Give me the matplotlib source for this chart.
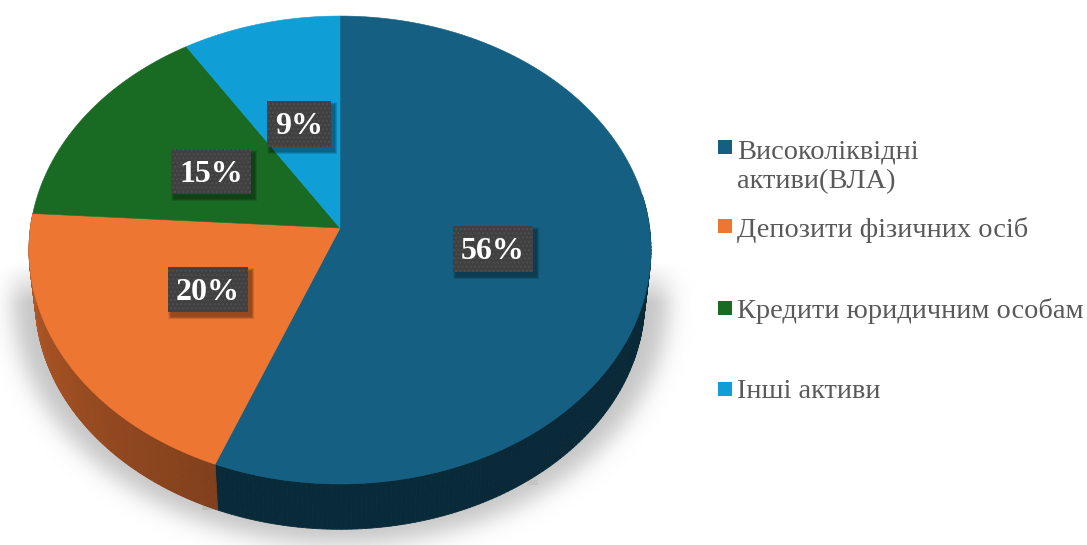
import numpy as np
import matplotlib
matplotlib.use("Agg")
import matplotlib.pyplot as plt
from matplotlib.collections import PolyCollection
from matplotlib.patches import Polygon, Rectangle
from matplotlib.colors import to_rgb

categories = ["Високоліквідні\nактиви(ВЛА)", "Депозити фізичних осіб",
              "Кредити юридичним особам", "Інші активи"]
values = [56, 20, 15, 9]
colors = ["#156082", "#EE7633", "#196B24", "#0F9ED5"]

# pie geometry in pixels
cx, cy = 340, 228
a, b, k = 309.6, 231.9, 0.094
depth_y, depth_scale = 50, 0.98
ellipse_y = 250

# label boxes and legend rows
label_boxes = [(453, 226, 80, 46), (168, 267, 80, 45), (171, 149, 80, 45), (267, 101, 64, 46)]
legend_tops = [140, 219, 301, 382]
legend_baselines = [[158, 188], [237], [318], [398]]


def rim(theta):
    # theta runs clockwise from the top of the pie, perspective makes the far side smaller
    x, y = np.sin(theta), np.cos(theta)
    d = 1 + k * y
    return cx + a * x / d, cy - b * y / d


def lower_rim(px, py):
    return cx + (px - cx) * depth_scale, ellipse_y + depth_y + (py - ellipse_y) * depth_scale


def blur(img, sigma):
    r = int(sigma * 3)
    kern = np.exp(-np.arange(-r, r + 1) ** 2 / (2 * sigma ** 2))
    kern /= kern.sum()
    img = np.apply_along_axis(lambda m: np.convolve(m, kern, mode="same"), 0, img)
    return np.apply_along_axis(lambda m: np.convolve(m, kern, mode="same"), 1, img)


plt.rcParams["font.family"] = ["Liberation Serif", "DejaVu Serif"]
fig = plt.figure(figsize=(10.87, 5.45), dpi=100)
ax = fig.add_axes([0, 0, 1, 1])
ax.set_xlim(0, 1087)
ax.set_ylim(545, 0)
ax.axis("off")

# soft shadow under the pie
yy, xx = np.mgrid[0:545, 0:1087]
mask = (((xx - 340) / 328.0) ** 2 + ((yy - 298) / 246.0) ** 2 <= 1).astype(float)
mask = blur(mask, 11)
mask *= np.clip((yy - 262) / 40.0, 0, 1)
shadow = np.zeros((545, 1087, 4))
shadow[..., :3] = 0.78
shadow[..., 3] = mask
ax.imshow(shadow, extent=(0, 1087, 545, 0), aspect="auto", zorder=1)
ax.set_xlim(0, 1087)
ax.set_ylim(545, 0)
ax.add_patch(Rectangle((202, 505), 16, 5, color="#BDBDBD", lw=0, zorder=1.5))
ax.add_patch(Rectangle((527, 480), 11, 5, color="#C4C4C4", lw=0, zorder=1.5))

# side wall, shaded along x
edges = np.cumsum([0] + values) / sum(values) * 2 * np.pi
wall_shade = [(0.42, 0.44), (0.54, 0.78)]
for i in range(2):
    th = np.linspace(edges[i], edges[i + 1], 240)
    th = th[(th > np.pi * 0.45) & (th < np.pi * 1.55)]
    tx, ty = rim(th)
    bx, by = lower_rim(tx, ty)
    quads, fc = [], []
    for j in range(len(th) - 1):
        quads.append([(tx[j], ty[j]), (tx[j + 1], ty[j + 1]), (bx[j + 1], by[j + 1]), (bx[j], by[j])])
        t = j / max(len(th) - 2, 1)
        fc.append(tuple(np.array(to_rgb(colors[i])) * (wall_shade[i][0] + t * (wall_shade[i][1] - wall_shade[i][0]))))
    ax.add_collection(PolyCollection(quads, facecolors=fc, edgecolors=fc, linewidths=0.6, zorder=2))

# top face
for i, col in enumerate(colors):
    th = np.linspace(edges[i], edges[i + 1], 200)
    px, py = rim(th)
    pts = np.column_stack([np.r_[cx, px], np.r_[cy, py]])
    ax.add_patch(Polygon(pts, closed=True, facecolor=col, edgecolor=col, lw=0.4, zorder=3))

# percent labels
for v, (x, y, w, h) in zip(values, label_boxes):
    for s in range(6):
        grow = 6 - s
        ax.add_patch(Rectangle((x + 3 - grow / 2, y + 4 - grow / 2), w + grow, h + grow,
                               facecolor="black", edgecolor="none", alpha=0.07, zorder=4))
    ax.add_patch(Rectangle((x, y), w, h, facecolor="#404040", edgecolor="none", zorder=5))
    ax.add_patch(Rectangle((x, y), w, h, facecolor="none", edgecolor="#4E4E4E", hatch="....", lw=0, zorder=5.1))
    ax.text(x + w / 2, y + h / 2 + 2.5, f"{v}%", color="white", fontsize=23, fontweight="bold",
            ha="center", va="center", zorder=6)

# legend
for name, col, top, bases in zip(categories, colors, legend_tops, legend_baselines):
    ax.add_patch(Rectangle((718, top), 14, 14, facecolor=col, edgecolor="none", zorder=3))
    for line, base in zip(name.split("\n"), bases):
        ax.text(737, base, line, color="#595959", fontsize=20.4, ha="left", va="baseline", zorder=3)

fig.savefig("out.png", dpi=100, facecolor="white")
